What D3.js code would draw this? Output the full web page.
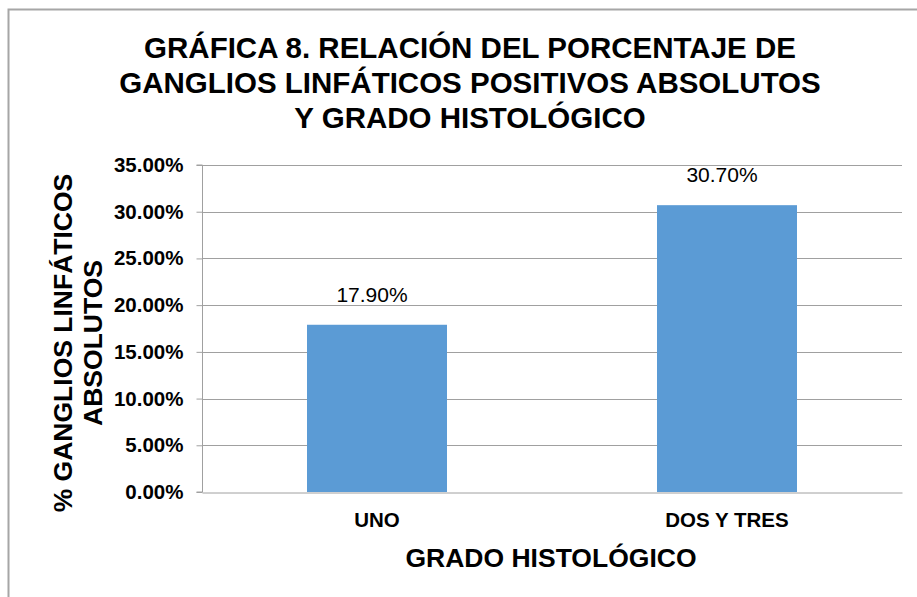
<!DOCTYPE html>
<html>
<head>
<meta charset="utf-8">
<script src="https://cdn.jsdelivr.net/npm/d3@7"></script>
<style>
  html, body { margin: 0; padding: 0; background: #fff; }
  svg { display: block; font-family: "Liberation Sans", Arial, sans-serif; }
</style>
</head>
<body>
<div id="chart"></div>
<script>
// Data
const categories = ["UNO", "DOS Y TRES"];
const values = [0.179, 0.307];
const yTicks = [0, 0.05, 0.10, 0.15, 0.20, 0.25, 0.30, 0.35];
const titleLines = ["GRÁFICA 8. RELACIÓN DEL PORCENTAJE DE", "GANGLIOS LINFÁTICOS POSITIVOS ABSOLUTOS", "Y GRADO HISTOLÓGICO"];
const yTitleLines = ["% GANGLIOS LINFÁTICOS", "ABSOLUTOS"];
const xTitle = "GRADO HISTOLÓGICO";

// Dimensions
const width = 917;
const height = 597;
const marginTop = 165;
const marginRight = 15;
const marginBottom = 105;
const marginLeft = 202;

const x = d3.scaleBand()
    .domain(categories)
    .range([marginLeft, width - marginRight])
    .paddingInner(0.6)
    .paddingOuter(0.3);

const y = d3.scaleLinear()
    .domain([0, 0.35])
    .range([height - marginBottom, marginTop]);

const svg = d3.create("svg")
    .attr("width", width)
    .attr("height", height);

// Chart frame (only top and left edges show)
svg.append("path")
    .attr("d", `M8.5,${height} V9.5 H${width}`)
    .attr("fill", "none")
    .attr("stroke", "#a6a6a6")
    .attr("stroke-width", 2);

// Gridlines
svg.append("g")
    .selectAll("line")
    .data(yTicks.slice(1))
    .join("line")
    .attr("x1", marginLeft)
    .attr("x2", width - marginRight)
    .attr("y1", d => Math.round(y(d)) + 0.5)
    .attr("y2", d => Math.round(y(d)) + 0.5)
    .attr("stroke", "#a0a0a0");

// Bars
svg.append("g")
    .selectAll("rect")
    .data(values)
    .join("rect")
    .attr("x", (d, i) => x(categories[i]))
    .attr("y", d => y(d))
    .attr("width", x.bandwidth())
    .attr("height", d => y(0) - y(d))
    .attr("fill", "#5b9bd5");

// Y axis
const yAxis = svg.append("g")
    .attr("transform", `translate(${marginLeft + 0.5},0)`)
    .call(d3.axisLeft(y).tickValues(yTicks).tickSize(6).tickPadding(13)
        .tickFormat(d => (d * 100).toFixed(2) + "%"));
yAxis.select(".domain").attr("stroke", "#a0a0a0").attr("d", `M-6,${y(0.35)}H0V${y(0)}H-6`);
yAxis.selectAll(".tick line").attr("stroke", "#a0a0a0");
yAxis.selectAll(".tick text")
    .attr("fill", "#000")
    .attr("font-size", 20.5)
    .attr("font-weight", "bold")
    .attr("font-family", "Liberation Sans, Arial, sans-serif");

// X axis
const xAxis = svg.append("g")
    .attr("transform", `translate(0,${Math.round(y(0)) + 0.5})`)
    .call(d3.axisBottom(x).tickSize(0).tickPadding(20));
xAxis.select(".domain").attr("stroke", "#a0a0a0");
xAxis.selectAll(".tick text")
    .attr("fill", "#000")
    .attr("font-size", 20.5)
    .attr("font-weight", "bold")
    .attr("font-family", "Liberation Sans, Arial, sans-serif");

// Data labels
svg.append("g")
    .selectAll("text")
    .data(values)
    .join("text")
    .attr("x", (d, i) => x(categories[i]) + x.bandwidth() / 2 - 5)
    .attr("y", d => y(d) - 23)
    .attr("text-anchor", "middle")
    .attr("font-size", 21)
    .text(d => (d * 100).toFixed(2) + "%");

// Title
svg.append("text")
    .attr("text-anchor", "middle")
    .attr("font-size", 29.5)
    .attr("font-weight", "bold")
    .selectAll("tspan")
    .data(titleLines)
    .join("tspan")
    .attr("x", 470)
    .attr("y", (d, i) => 58 + i * 35)
    .text(d => d);

// Y axis title
svg.append("text")
    .attr("transform", "translate(0,343) rotate(-90)")
    .attr("text-anchor", "middle")
    .attr("font-size", 26.5)
    .attr("font-weight", "bold")
    .selectAll("tspan")
    .data(yTitleLines)
    .join("tspan")
    .attr("x", 0)
    .attr("y", (d, i) => 72 + i * 30)
    .text(d => d);

// X axis title
svg.append("text")
    .attr("x", 551)
    .attr("y", 567)
    .attr("text-anchor", "middle")
    .attr("font-size", 26.5)
    .attr("font-weight", "bold")
    .text(xTitle);

d3.select("#chart").append(() => svg.node());
</script>
</body>
</html>
